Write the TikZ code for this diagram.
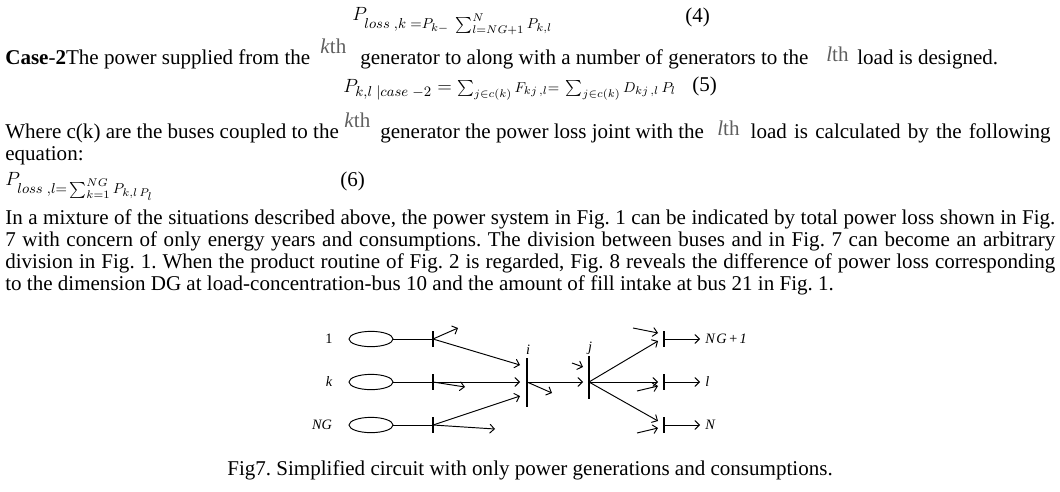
\documentclass[tikz,border=0pt]{standalone}
\usepackage{fontspec}
\setmainfont{Liberation Serif}
\usetikzlibrary{arrows,positioning,shapes.geometric}

\definecolor{thgray}{RGB}{95,95,95}
\newcommand{\kthmark}{\textcolor{thgray}{\textit{k}th}}
\newcommand{\lthmark}{\textcolor{thgray}{\textit{l}th}}
\frenchspacing

\begin{document}
\begin{tikzpicture}[x=0.6274pt,y=-0.6274pt,
	txt/.style={anchor=base west,inner sep=0pt,font=\fontsize{13.2}{15.2}\selectfont},
	gen/.style={draw,ellipse,line width=0.6pt,minimum width=27.6pt,minimum height=9.6pt,inner sep=0pt},
	bus/.style={line width=1pt},
	wire/.style={line width=0.6pt},
	flow/.style={wire,-angle 90},
	lbl/.style={inner sep=0pt,font=\fontsize{9}{10}\selectfont\itshape}]

	\useasboundingbox (0,0) rectangle (1060,491);

	% equations and text above the figure
	\node[txt] (eqfour) at (352,20) {$P_{loss\;,k\;=P_{k-}\;\sum_{l=NG+1}^{N}P_{k,l}}$};
	\node[txt] (numfour) at (685,23) {(4)};

	\node[txt] (casea) at (5,64) {\textbf{Case}-\textbf{2}The power supplied from the};
	\node[txt] (caseb) at (320,53) {\kthmark};
	\node[txt] (casec) at (360,64) {generator to along with a number of generators to the};
	\node[txt] (cased) at (826,61) {\lthmark};
	\node[txt] (casee) at (857,64) {load is designed.};

	\node[txt] (eqfive) at (343,92) {$P_{k,l\;|case\;-2} = {\scriptstyle\sum_{j\in c(k)}F_{kj\,,l}{=}\;\sum_{j\in c(k)}D_{kj\,,l}\,P_l}$};
	\node[txt] (numfive) at (692,91) {(5)};

	\node[txt] (wherea) at (5,138) {Where c(k) are the buses coupled to the};
	\node[txt] (whereb) at (344,127) {\kthmark};
	\node[txt] (wherec) at (380,138) {generator the power loss joint with the};
	\node[txt] (whered) at (717,135) {\lthmark};
	\node[txt,anchor=base east] (wheree) at (1051,138) {\makebox[188.2pt][s]{load is calculated by the following}};
	\node[txt] (eqword) at (5,160) {equation:};

	\node[txt] (eqsix) at (5,185) {$P_{loss\;,l{=}\sum_{k=1}^{NG}P_{k,l\,P_l}}$};
	\node[txt] (numsix) at (340,186) {(6)};

	\node[txt] (para1) at (5,224) {\makebox[658.8pt][s]{In a mixture of the situations described above, the power system in Fig. 1 can be indicated by total power loss shown in Fig.}};
	\node[txt] (para2) at (5,246) {\makebox[658.8pt][s]{7 with concern of only energy years and consumptions. The division between buses and in Fig. 7 can become an arbitrary}};
	\node[txt] (para3) at (5,268) {\makebox[658.8pt][s]{division in Fig. 1. When the product routine of Fig. 2 is regarded, Fig. 8 reveals the difference of power loss corresponding}};
	\node[txt] (para4) at (5,290) {to the dimension DG at load-concentration-bus 10 and the amount of fill intake at bus 21 in Fig. 1.};

	% generators
	\node[gen] (g1) at (371,339) {};
	\node[gen] (gk) at (371,382) {};
	\node[gen] (gng) at (371,425) {};
	\node[lbl,font=\fontsize{9}{10}\selectfont] (n1) at (329,339) {1};
	\node[lbl] (nk) at (329,382) {k};
	\node[lbl] (nng) at (322,425) {NG};

	\foreach \r/\y in {1/339,k/382,ng/425} {
		\coordinate (b\r) at (433,\y);
		\draw[bus] (433,\y-8) -- (433,\y+8);
	}
	\draw[wire] (g1.east) -- (b1);
	\draw[wire] (gk.east) -- (bk);
	\draw[wire] (gng.east) -- (bng);

	% buses i and j
	\coordinate (bi) at (527,382);
	\coordinate (bj) at (589,382);
	\draw[bus] (527,358) -- (527,407);
	\draw[bus] (589,356) -- (589,399);
	\node[lbl] (ni) at (528,350) {i};
	\node[lbl] (nj) at (590,348) {j};

	% load buses
	\foreach \r/\y/\t in {a/339/N\kern1pt G\kern1pt +\kern1pt 1,b/382/l,c/425/N} {
		\coordinate (d\r) at (664,\y);
		\coordinate (e\r) at (700,\y);
		\draw[bus] (664,\y-8) -- (664,\y+8);
		\draw[flow] (d\r) -- (e\r);
		\node[lbl,anchor=west] (t\r) at (705,\y) {\t};
	}

	% free ends
	\coordinate (o1) at (458,328);
	\coordinate (i1) at (520,365);
	\coordinate (ok) at (465,387);
	\coordinate (ik) at (520,382);
	\coordinate (ing) at (520,396);
	\coordinate (ong) at (495,429);
	\coordinate (oi) at (552,393);
	\coordinate (ji) at (583,382);
	\coordinate (sj) at (572,363);
	\coordinate (tj) at (583,367);
	\coordinate (fa) at (658,341);
	\coordinate (fb) at (658,382);
	\coordinate (fc) at (658,421);
	\coordinate (sa) at (633,328);
	\coordinate (ta) at (658,333);
	\coordinate (sb) at (637,391);
	\coordinate (tb) at (658,386);
	\coordinate (sc) at (637,433);
	\coordinate (tc) at (658,428);

	\draw[flow] (b1) -- (o1);
	\draw[flow] (b1) -- (i1);
	\draw[flow] (bk) -- (ok);
	\draw[flow] (bk) -- (ik);
	\draw[flow] (bng) -- (ing);
	\draw[flow] (bng) -- (ong);
	\draw[flow] (bi) -- (oi);
	\draw[flow] (bi) -- (ji);
	\draw[flow] (sj) -- (tj);
	\draw[flow] (bj) -- (fa);
	\draw[flow] (bj) -- (fb);
	\draw[flow] (bj) -- (fc);
	\draw[flow] (sa) -- (ta);
	\draw[flow] (sb) -- (tb);
	\draw[flow] (sc) -- (tc);

	\node[txt,anchor=base] (caption) at (530,475) {Fig7. Simplified circuit with only power generations and consumptions.};
\end{tikzpicture}
\end{document}
